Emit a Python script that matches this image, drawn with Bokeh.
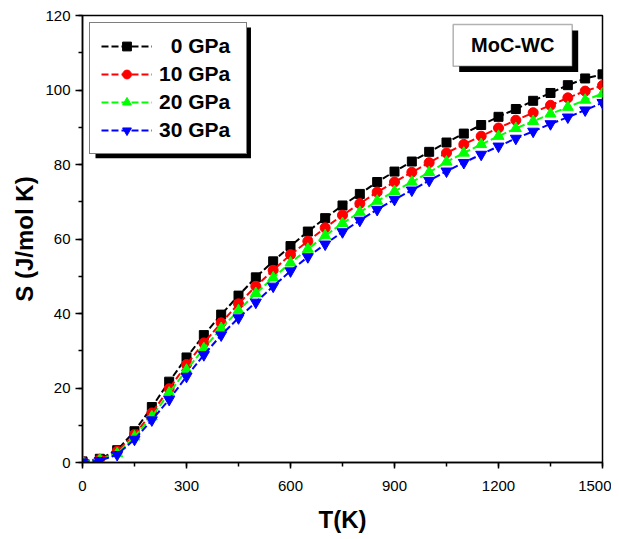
from bokeh.plotting import figure
from bokeh.models import Range1d, SingleIntervalTicker, Legend, LegendItem, BoxAnnotation, Label
from bokeh.embed import file_html
from bokeh.resources import INLINE

# Temperature (K)
T = list(range(0, 1501, 50))

# Entropy S (J/mol K) at each pressure
s_0gpa = [0.3, 1.0, 3.3, 8.4, 14.9, 21.7, 28.2, 34.2, 39.7, 44.8, 49.7, 54.0, 58.1, 62.0, 65.6, 69.0,
          72.1, 75.3, 78.1, 80.8, 83.4, 85.9, 88.3, 90.6, 92.8, 94.9, 97.1, 99.2, 101.3, 103.1, 104.2]
s_10gpa = [0.2, 0.8, 3.0, 7.5, 13.3, 19.8, 26.3, 32.1, 37.5, 42.6, 47.3, 51.6, 55.8, 59.4, 63.0, 66.4,
           69.5, 72.6, 75.3, 77.9, 80.5, 83.1, 85.4, 87.6, 89.8, 91.9, 93.9, 95.9, 97.9, 99.7, 101.2]
s_20gpa = [0.2, 0.7, 2.4, 6.9, 12.3, 18.7, 24.8, 30.6, 36.0, 40.8, 45.4, 49.6, 53.6, 57.3, 60.9, 64.2,
           67.2, 70.2, 72.8, 75.3, 77.9, 80.7, 83.1, 85.4, 87.6, 89.7, 91.6, 93.6, 95.4, 97.3, 99.0]
s_30gpa = [0.1, 0.5, 2.1, 6.2, 11.4, 16.9, 23.1, 28.9, 34.2, 38.8, 43.0, 47.3, 51.4, 55.2, 58.6, 61.9,
           65.0, 67.9, 70.6, 73.1, 75.7, 78.2, 80.5, 82.7, 84.9, 87.0, 88.9, 90.9, 92.7, 94.6, 96.6]

labels = ["\u00a0\u00a00 GPa", "10 GPa", "20 GPa", "30 GPa"]
series = [s_0gpa, s_10gpa, s_20gpa, s_30gpa]
colors = ["#000000", "#FF0000", "#00FF00", "#0000FF"]
markers = ["square", "circle", "triangle", "inverted_triangle"]
sizes = [9, 10, 11, 11]

FONT = "Liberation Sans"

p = figure(width=611, height=535, output_backend="svg", toolbar_location=None,
           x_range=Range1d(0, 1500), y_range=Range1d(0, 120),
           min_border_left=82, min_border_right=9, min_border_top=15, min_border_bottom=72)

p.xgrid.visible = False
p.ygrid.visible = False
p.outline_line_color = "black"
p.outline_line_width = 1.5
p.background_fill_color = "white"

p.xaxis.ticker = SingleIntervalTicker(interval=300, num_minor_ticks=2)
p.yaxis.ticker = SingleIntervalTicker(interval=20, num_minor_ticks=2)
for ax in (p.xaxis, p.yaxis):
    ax.axis_line_width = 1.5
    ax.axis_line_color = "black"
    ax.major_tick_line_color = "black"
    ax.minor_tick_line_color = "black"
    ax.major_tick_line_width = 1.5
    ax.minor_tick_line_width = 1.5
    ax.major_tick_in = 0
    ax.minor_tick_in = 0
    ax.major_label_text_font = FONT
    ax.major_label_text_font_size = "15px"
    ax.major_label_text_color = "black"
    ax.axis_label_text_font = FONT
    ax.axis_label_text_font_style = "bold"
    ax.axis_label_text_font_size = "24px"
    ax.axis_label_text_color = "black"
p.xaxis.major_tick_out = 6
p.xaxis.minor_tick_out = 4
p.yaxis.major_tick_out = 7
p.yaxis.minor_tick_out = 4
p.xaxis.major_label_standoff = 12
p.yaxis.major_label_standoff = 5
p.xaxis.axis_label = "T(K)"
p.yaxis.axis_label = "S (J/mol K)"
p.xaxis.axis_label_standoff = 12
p.yaxis.axis_label_standoff = 4

items = []
for lab, ys, c, m, sz in zip(labels, series, colors, markers, sizes):
    r_line = p.line(T, ys, line_color=c, line_width=2, line_dash="7 3")
    r_pts = p.scatter(T, ys, marker=m, size=sz, fill_color=c, line_color=c)
    items.append(LegendItem(label=lab, renderers=[r_line, r_pts]))

# shadows and label box (annotation decoration)
p.add_layout(BoxAnnotation(left=37.5, right=486.0, top=116.8, bottom=81.7,
                           fill_color="black", fill_alpha=1, line_alpha=0))
p.add_layout(BoxAnnotation(left=1086.6, right=1429.9, top=116.0, bottom=104.8,
                           fill_color="black", fill_alpha=1, line_alpha=0))
p.add_layout(BoxAnnotation(left=1069.3, right=1412.6, top=117.6, bottom=106.4,
                           fill_color="white", fill_alpha=1, line_color="black", line_width=1.5))
p.add_layout(Label(x=1241, y=112.0, text="MoC-WC", text_align="center", text_baseline="middle",
                   text_font=FONT, text_font_style="bold", text_font_size="20px", text_color="black"))

legend = Legend(items=items, location="top_left", margin=7, padding=11, spacing=4,
                glyph_width=51, glyph_height=22, label_height=22, label_width=76, label_standoff=7,
                label_text_font=FONT, label_text_font_style="bold", label_text_font_size="21px",
                label_text_color="black", border_line_color="black", border_line_width=1.5,
                background_fill_color="white", background_fill_alpha=1)
p.add_layout(legend)

open("out.html", "w").write(file_html(p, INLINE))
